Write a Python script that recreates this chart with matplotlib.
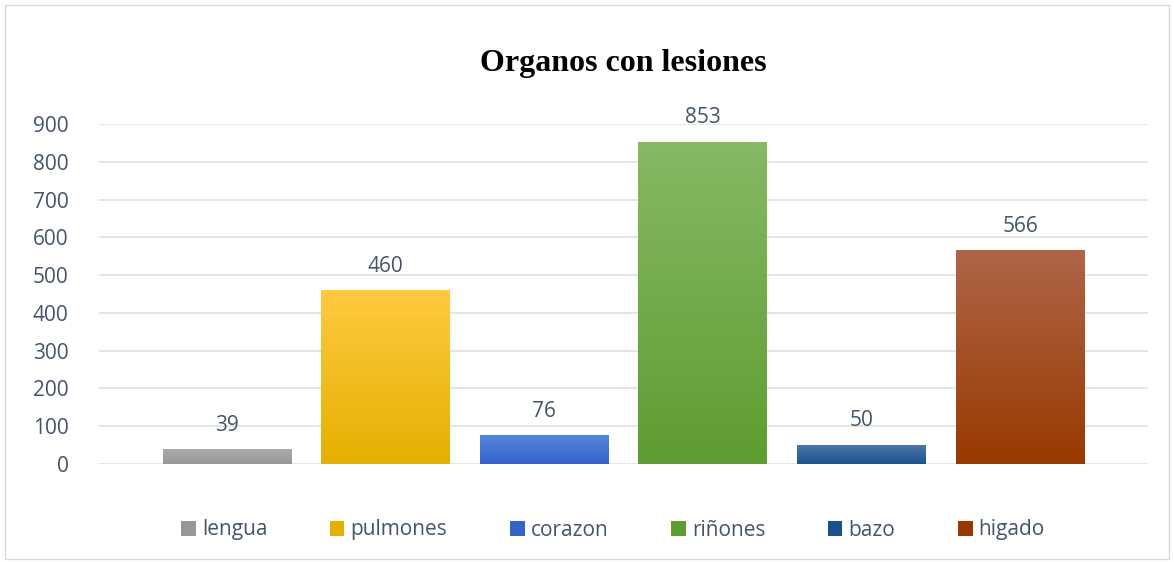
import matplotlib.pyplot as plt
from matplotlib.colors import LinearSegmentedColormap
from matplotlib.patches import Rectangle
import numpy as np

organos = ['lengua', 'pulmones', 'corazon', 'riñones', 'bazo', 'higado']
valores = [39, 460, 76, 853, 50, 566]
# top / bottom colour of each bar gradient
arriba = ['#ABABAB', '#FFCA40', '#5585DB', '#86B964', '#4D77A8', '#AF6549']
abajo = ['#979797', '#E5B000', '#3464C8', '#5E9D31', '#1A5290', '#983A00']

texto = '#44546A'
plt.rcParams['font.family'] = ['Open Sans', 'DejaVu Sans']

fig = plt.figure(figsize=(11.74, 5.62), dpi=100)
ax = fig.add_axes([99 / 1174, 98 / 562, 1049 / 1174, 340 / 562])

# outer chart border
fig.patches.append(Rectangle((5 / 1174, 3 / 562), 1164 / 1174, 554 / 562,
                             transform=fig.transFigure, fill=False,
                             edgecolor='#D9D9D9', linewidth=1))

x = np.arange(len(organos))
bars = ax.bar(x, valores, width=0.813, color=abajo, label=organos, zorder=2)

# vertical gradient on each bar
for b, c1, c2 in zip(bars, arriba, abajo):
    cmap = LinearSegmentedColormap.from_list('g', [c2, c1])
    grad = np.linspace(0, 1, 256).reshape(-1, 1)
    x0, y0 = b.get_x(), b.get_y()
    im = ax.imshow(grad, cmap=cmap, origin='lower', aspect='auto',
                   extent=(x0, x0 + b.get_width(), y0, y0 + b.get_height()),
                   zorder=3)
    im.set_clip_path(b)

for xi, v in zip(x, valores):
    ax.text(xi, v + 64, str(v), ha='center', va='center', fontsize=15, color=texto)

ax.set_xlim(-0.807, 5.807)
ax.set_ylim(0, 900)
ax.set_yticks(range(0, 901, 100))
ax.set_xticks([])
ax.tick_params(axis='y', length=0, labelsize=15, labelcolor=texto, pad=22)
ax.grid(axis='y', color='#DDE1E6', linewidth=1.2, zorder=0)
for s in ax.spines.values():
    s.set_visible(False)

fig.text(623 / 1174, 1 - 64 / 562, 'Organos con lesiones', ha='center', va='center',
         fontsize=23, fontweight='bold', family='Liberation Serif', color='black')

fig.legend(handles=bars, labels=organos, loc='center', bbox_to_anchor=(613 / 1174, 1 - 530 / 562),
           ncol=6, frameon=False, fontsize=15, labelcolor=texto, handlelength=0.7,
           handleheight=0.7, handletextpad=0.3, columnspacing=3.0)

fig.savefig('out.png', dpi=100)
